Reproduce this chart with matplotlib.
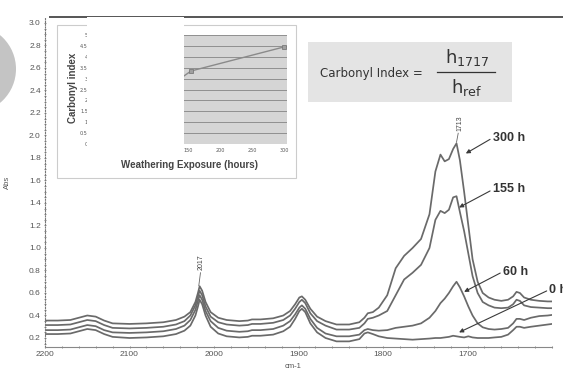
import matplotlib.pyplot as plt
from matplotlib.patches import Rectangle, Ellipse
from matplotlib.lines import Line2D

# wavenumbers (cm-1) and absorbance
wn = [2200, 2185, 2170, 2160, 2150, 2140, 2130, 2120, 2100, 2080, 2060, 2045,
      2035, 2028, 2022, 2019, 2017, 2014, 2010, 2004, 1995, 1985, 1970, 1960,
      1955, 1945, 1930, 1918, 1910, 1904, 1899, 1896, 1892, 1886, 1878, 1868,
      1855, 1840, 1828, 1822, 1818, 1812, 1805, 1795, 1785, 1775, 1765, 1755,
      1745, 1738, 1732, 1727, 1722, 1717, 1713, 1709, 1704, 1699, 1694, 1688,
      1682, 1675, 1668, 1660, 1652, 1646, 1642, 1638, 1633, 1625, 1615, 1605, 1600]

abs_300h = [0.355, 0.355, 0.36, 0.38, 0.40, 0.39, 0.355, 0.33, 0.325, 0.33, 0.34, 0.36,
            0.39, 0.43, 0.52, 0.60, 0.66, 0.62, 0.52, 0.43, 0.38, 0.36, 0.35, 0.355,
            0.365, 0.365, 0.375, 0.40, 0.44, 0.50, 0.56, 0.57, 0.54, 0.46, 0.39, 0.35,
            0.32, 0.32, 0.34, 0.38, 0.42, 0.43, 0.47, 0.58, 0.82, 0.93, 1.00, 1.08,
            1.30, 1.68, 1.83, 1.77, 1.79, 1.88, 1.93, 1.78, 1.50, 1.20, 0.90, 0.70,
            0.60, 0.56, 0.54, 0.53, 0.54, 0.57, 0.61, 0.60, 0.56, 0.54, 0.53, 0.525, 0.525]

abs_155h = [0.315, 0.315, 0.32, 0.34, 0.36, 0.35, 0.315, 0.29, 0.285, 0.29, 0.30, 0.32,
            0.35, 0.40, 0.49, 0.57, 0.62, 0.58, 0.48, 0.39, 0.34, 0.32, 0.31, 0.315,
            0.325, 0.325, 0.335, 0.36, 0.40, 0.46, 0.52, 0.54, 0.51, 0.42, 0.35, 0.31,
            0.275, 0.275, 0.29, 0.33, 0.37, 0.38, 0.40, 0.44, 0.58, 0.72, 0.78, 0.85,
            1.00, 1.25, 1.33, 1.31, 1.34, 1.45, 1.46, 1.32, 1.15, 0.95, 0.75, 0.60,
            0.52, 0.49, 0.47, 0.465, 0.47, 0.50, 0.54, 0.53, 0.49, 0.475, 0.47, 0.465, 0.465]

abs_60h = [0.27, 0.27, 0.275, 0.295, 0.315, 0.305, 0.27, 0.25, 0.245, 0.25, 0.26, 0.28,
           0.31, 0.36, 0.45, 0.53, 0.58, 0.54, 0.44, 0.35, 0.29, 0.265, 0.255, 0.26,
           0.27, 0.27, 0.28, 0.31, 0.35, 0.41, 0.47, 0.49, 0.46, 0.37, 0.29, 0.24,
           0.215, 0.215, 0.23, 0.27, 0.28, 0.27, 0.265, 0.27, 0.29, 0.30, 0.31, 0.33,
           0.38, 0.44, 0.51, 0.55, 0.60, 0.66, 0.70, 0.65, 0.57, 0.48, 0.40, 0.33,
           0.295, 0.28, 0.275, 0.28, 0.29, 0.33, 0.37, 0.37, 0.36, 0.38, 0.395, 0.40, 0.405]

abs_0h = [0.235, 0.235, 0.24, 0.26, 0.28, 0.27, 0.235, 0.21, 0.20, 0.205, 0.215, 0.235,
          0.265, 0.31, 0.40, 0.48, 0.54, 0.50, 0.40, 0.30, 0.24, 0.215, 0.205, 0.21,
          0.22, 0.22, 0.23, 0.26, 0.30, 0.37, 0.44, 0.46, 0.43, 0.33, 0.25, 0.20,
          0.17, 0.17, 0.19, 0.24, 0.25, 0.235, 0.215, 0.20, 0.195, 0.19, 0.185, 0.19,
          0.195, 0.20, 0.20, 0.205, 0.21, 0.22, 0.215, 0.21, 0.205, 0.215, 0.205, 0.20,
          0.20, 0.20, 0.205, 0.21, 0.23, 0.27, 0.30, 0.30, 0.29, 0.30, 0.31, 0.32, 0.325]

# inset: carbonyl index vs weathering exposure
hours = [0, 60, 155, 300]
carbonyl = [0.9, 1.4, 3.35, 4.45]

W, H = 563, 370
def fx(px): return px / W
def fy(py): return 1 - py / H

fig = plt.figure(figsize=(W / 100, H / 100), dpi=100)
fig.patch.set_facecolor('white')

# main spectrum axes
ax = fig.add_axes([fx(45), fy(347), fx(552) - fx(45), fy(18) - fy(347)])
for y in (abs_0h, abs_60h, abs_155h, abs_300h):
    ax.plot(wn, y, color='#6a6a6a', lw=1.25)
ax.set_xlim(2200, 1600)
ax.set_ylim(0.12, 3.044)
ax.set_xticks([2200, 2100, 2000, 1900, 1800, 1700])
ax.set_xticks(range(1600, 2201, 20), minor=True)
ax.set_yticks([0.2 + 0.2 * i for i in range(15)])
ax.set_yticklabels([f'{0.2 + 0.2 * i:.1f}' for i in range(15)])
ax.set_yticks([0.15 + 0.05 * i for i in range(58)], minor=True)
ax.spines['top'].set_visible(False)
ax.spines['right'].set_visible(False)
ax.spines['left'].set_linestyle((0, (1, 1.5)))
ax.spines['left'].set_color('#777777')
ax.spines['bottom'].set_color('#888888')
ax.spines['left'].set_linewidth(0.8)
ax.spines['bottom'].set_linewidth(0.8)
ax.tick_params(axis='both', which='both', colors='#777777', labelcolor='#555555',
               labelsize=6, length=2, width=0.6, pad=2, direction='inout')
ax.tick_params(axis='both', which='minor', length=1.5)
for lab in ax.get_xticklabels() + ax.get_yticklabels():
    lab.set_family('Liberation Sans')
ax.set_xlabel('cm-1', fontsize=5.5, color='#555555', family='Liberation Sans')
ax.xaxis.set_label_coords(0.49, -0.05)
ax.set_ylabel('Abs', fontsize=5.5, color='#555555', family='Liberation Sans')
ax.yaxis.set_label_coords(-0.067, 0.5)

# peak labels
ax.plot([2018, 2016], [0.665, 0.78], color='#666666', lw=0.6)
ax.text(2015, 0.80, '2017', rotation=90, fontsize=5, color='#444444',
        ha='center', va='bottom', family='Liberation Sans')
ax.plot([1713, 1711], [1.94, 2.02], color='#666666', lw=0.6)
ax.text(1709, 2.04, '1713', rotation=90, fontsize=5, color='#444444',
        ha='center', va='bottom', family='Liberation Sans')

arrow = dict(arrowstyle='-|>', color='#3a3a3a', lw=0.8, mutation_scale=6,
             shrinkA=0, shrinkB=0, relpos=(0, 0.5))
labels = [('300 h', (1702, 1.84), (1670, 1.98)),
          ('155 h', (1710, 1.36), (1670, 1.52)),
          ('60 h', (1704, 0.61), (1658, 0.79)),
          ('0 h', (1710, 0.25), (1603, 0.63))]
for txt, tip, pos in labels:
    ax.annotate(txt, xy=tip, xytext=pos, fontsize=9, fontweight='bold',
                color='#333333', ha='left', va='center', family='Liberation Sans',
                arrowprops=arrow, annotation_clip=False)

# header rule and left decoration
fig.add_artist(Line2D([fx(50), fx(563)], [fy(17), fy(17)], color='#555555', lw=1.4))
fig.add_artist(Ellipse((fx(-28), fy(69)), 2 * 44 / W, 2 * 44 / H,
                       facecolor='#c4c4c4', edgecolor='none'))

# inset frame
fig.add_artist(Rectangle((fx(57), fy(178)), fx(296) - fx(57), fy(25) - fy(178),
                         facecolor='white', edgecolor='#cccccc', lw=0.8, zorder=1))

axi = fig.add_axes([fx(92), fy(144), fx(287) - fx(92), fy(35) - fy(144)])
axi.set_zorder(2)
axi.set_facecolor('#d5d5d5')
axi.plot(hours, carbonyl, color='#8a8a8a', lw=1.0, marker='s', ms=3.5,
         mfc='#a0a0a0', mec='#7a7a7a', mew=0.6)
axi.set_xlim(0, 305)
axi.set_ylim(0, 5)
axi.set_xticks([0, 50, 100, 150, 200, 250, 300])
axi.set_yticks([0.5 * i for i in range(11)])
axi.set_yticklabels(['0', '0.5', '1', '1.5', '2', '2.5', '3', '3.5', '4', '4.5', '5'])
axi.grid(axis='y', color='#8f8f8f', lw=0.7)
axi.set_axisbelow(True)
for s in axi.spines.values():
    s.set_visible(False)
axi.tick_params(labelsize=3.5, length=0, pad=3, labelcolor='#555555')
fig.text(fx(190), fy(165), 'Weathering Exposure (hours)', fontsize=7, fontweight='bold',
         color='#444444', ha='center', va='center', family='Liberation Sans', zorder=3)
fig.text(fx(73), fy(88), 'Carbonyl index', fontsize=7, fontweight='bold', rotation=90,
         color='#444444', ha='center', va='center', family='Liberation Sans', zorder=3)

# blanked-out area
fig.add_artist(Rectangle((fx(87), fy(154)), fx(184) - fx(87), fy(17) - fy(154),
                         facecolor='white', edgecolor='none', zorder=5))

# formula box
fig.add_artist(Rectangle((fx(308), fy(102)), fx(512) - fx(308), fy(42) - fy(102),
                         facecolor='#e4e4e4', edgecolor='none', zorder=1))
fig.text(fx(320), fy(73), 'Carbonyl Index =', fontsize=8.5, color='#333333',
         ha='left', va='center', zorder=3)
fig.text(fx(467), fy(58), r'$\mathregular{h_{1717}}$', fontsize=13, color='#333333',
         ha='center', va='center', zorder=3)
fig.add_artist(Line2D([fx(437), fx(495)], [fy(72), fy(72)], color='#333333', lw=0.9, zorder=3))
fig.text(fx(467), fy(88), r'$\mathregular{h_{ref}}$', fontsize=13, color='#333333',
         ha='center', va='center', zorder=3)

fig.savefig('out.png', dpi=100)
